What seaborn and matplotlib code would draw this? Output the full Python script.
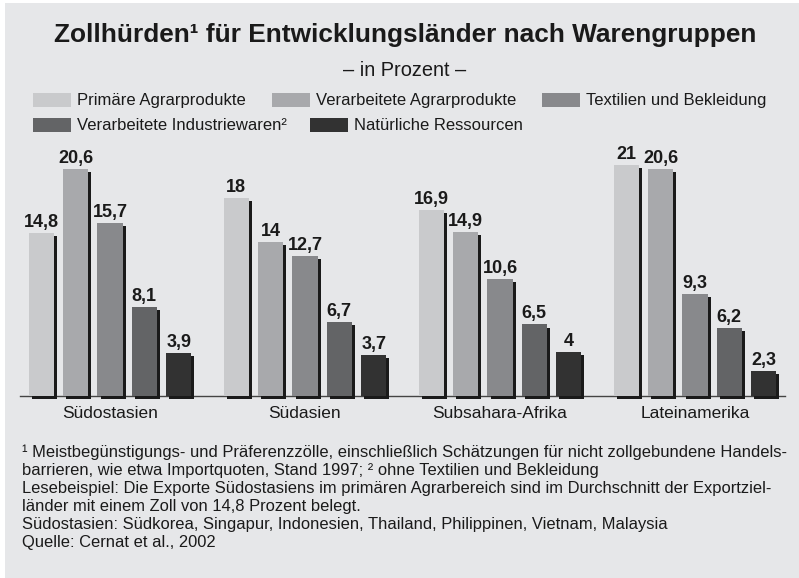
import matplotlib
matplotlib.use("Agg")
import matplotlib.pyplot as plt
import matplotlib.patheffects as pe
from matplotlib.patches import Rectangle
import pandas as pd
import seaborn as sns

W, H = 799, 578

REGIONS = ["Südostasien", "Südasien", "Subsahara-Afrika", "Lateinamerika"]
GROUPS = [
    "Primäre Agrarprodukte",
    "Verarbeitete Agrarprodukte",
    "Textilien und Bekleidung",
    "Verarbeitete Industriewaren²",
    "Natürliche Ressourcen",
]
primaer = [14.8, 18, 16.9, 21]
verarb_agrar = [20.6, 14, 14.9, 20.6]
textil = [15.7, 12.7, 10.6, 9.3]
industrie = [8.1, 6.7, 6.5, 6.2]
ressourcen = [3.9, 3.7, 4, 2.3]

COLORS = ["#c9cacc", "#a8a9ac", "#88898c", "#636466", "#323232"]
BG = "#e6e7e9"

TITLE = "Zollhürden¹ für Entwicklungsländer nach Warengruppen"
SUBTITLE = "– in Prozent –"
NOTES = [
    "¹ Meistbegünstigungs- und Präferenzzölle, einschließlich Schätzungen für nicht zollgebundene Handels-",
    "barrieren, wie etwa Importquoten, Stand 1997; ² ohne Textilien und Bekleidung",
    "Lesebeispiel: Die Exporte Südostasiens im primären Agrarbereich sind im Durchschnitt der Exportziel-",
    "länder mit einem Zoll von 14,8 Prozent belegt.",
    "Südostasien: Südkorea, Singapur, Indonesien, Thailand, Philippinen, Vietnam, Malaysia",
    "Quelle: Cernat et al., 2002",
]


def fx(x):
    return x / W


def fy(y):
    return 1 - y / H


def build_dataframe():
    series = [primaer, verarb_agrar, textil, industrie, ressourcen]
    rows = []
    for group, values in zip(GROUPS, series):
        for region, v in zip(REGIONS, values):
            rows.append({"Region": region, "Warengruppe": group, "Wert": v})
    return pd.DataFrame(rows)


def main():
    sns.set_style("white")
    plt.rcParams["font.family"] = ["Liberation Sans", "DejaVu Sans"]

    df = build_dataframe()

    fig = plt.figure(figsize=(W / 100, H / 100), dpi=100, facecolor="white")
    # grey panel (thin white edge on the left and top)
    fig.patches.append(Rectangle((fx(5), 0), 1 - fx(5), fy(3), transform=fig.transFigure,
                                 facecolor=BG, edgecolor="none", zorder=-10))

    ax = fig.add_axes([fx(20), fy(396), fx(785) - fx(20), (396 - 150) / H])
    ax.set_facecolor("none")

    sns.barplot(data=df, x="Region", y="Wert", hue="Warengruppe",
                order=REGIONS, hue_order=GROUPS, palette=COLORS,
                width=0.88, gap=0.27, linewidth=0, saturation=1,
                legend=False, ax=ax)

    shadow = [pe.SimplePatchShadow(offset=(2.2, -2.2), shadow_rgbFace="#1a1a1a", alpha=1),
              pe.Normal()]
    for bar in ax.patches:
        bar.set_clip_on(False)
        bar.set_path_effects(shadow)
        bar.set_zorder(3)

    for container in ax.containers:
        labels = [f"{b.get_height():g}".replace(".", ",") for b in container]
        ax.bar_label(container, labels=labels, padding=1.5, fontsize=13,
                     fontweight="bold", color="#1a1a1a")

    ax.set_xlim(-0.4615, 3.4615)
    ax.set_ylim(0, 22.36)
    ax.set_xlabel("")
    ax.set_ylabel("")
    ax.set_yticks([])
    ax.tick_params(axis="x", length=0, pad=7, labelsize=12.5, labelcolor="#1a1a1a")
    for side in ["top", "left", "right"]:
        ax.spines[side].set_visible(False)
    ax.spines["bottom"].set_color("#444444")
    ax.spines["bottom"].set_linewidth(1)
    ax.spines["bottom"].set_zorder(2)

    # title block
    fig.text(fx(405), fy(35), TITLE, ha="center", va="center",
             fontsize=18.9, fontweight="bold", color="#1a1a1a")
    fig.text(fx(405), fy(71), SUBTITLE, ha="center", va="center",
             fontsize=14.4, color="#1a1a1a")

    # legend, two rows
    legend_pos = [(33, 100), (272, 100), (542, 100), (33, 125), (310, 125)]
    for (lx, ly), name, col in zip(legend_pos, GROUPS, COLORS):
        fig.patches.append(Rectangle((fx(lx), fy(ly + 7)), 38 / W, 14 / H,
                                     transform=fig.transFigure, facecolor=col,
                                     edgecolor="none", zorder=1))
        fig.text(fx(lx + 44), fy(ly), name, ha="left", va="center",
                 fontsize=12, color="#1a1a1a")

    # footnotes
    for i, line in enumerate(NOTES):
        fig.text(fx(22), fy(452 + i * 18.2), line, ha="left", va="center",
                 fontsize=11.9, color="#1a1a1a")

    fig.savefig("out.png", dpi=100, facecolor=fig.get_facecolor())


if __name__ == "__main__":
    main()
